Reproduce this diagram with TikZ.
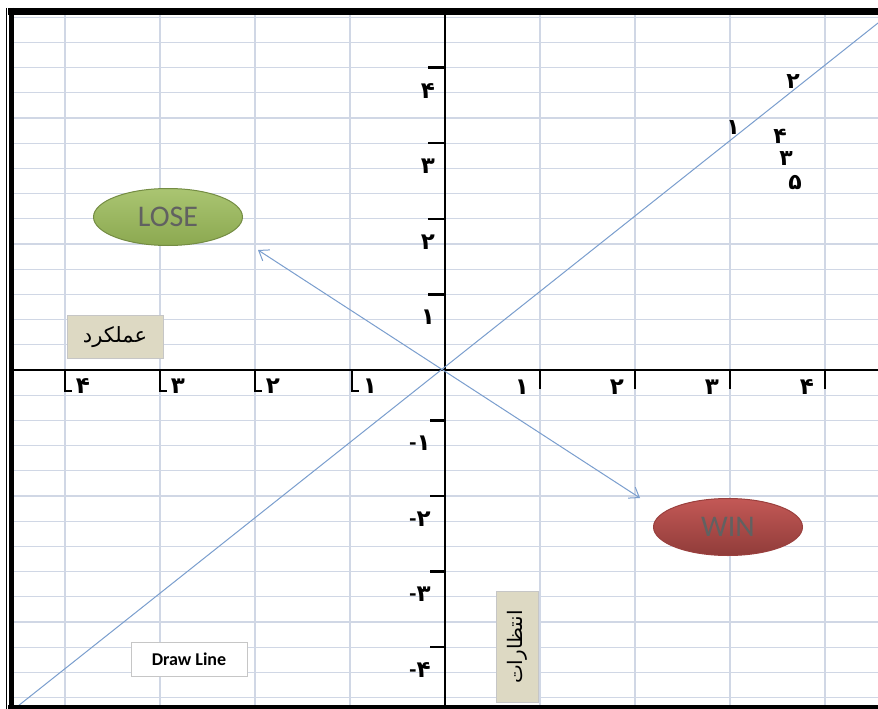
\documentclass[tikz,border=0pt]{standalone}
\usepackage{fontspec}
\setmainfont{Carlito}
\newfontfamily\fafont[Script=Arabic]{DejaVu Sans}
\TeXXeTstate=1
\usetikzlibrary{arrows.meta}
\usetikzlibrary{shapes.geometric}
\definecolor{gridblue}{RGB}{208,215,229}
\definecolor{lineblue}{RGB}{122,158,206}
\definecolor{losegreen}{RGB}{155,187,89}
\definecolor{winred}{RGB}{192,80,77}
\definecolor{beige}{RGB}{221,217,195}

\tikzset{
  gridline/.style={gridblue, line width=1.3pt},
  axisline/.style={black, line width=2.8pt},
  tickmark/.style={black, line width=2.4pt},
  axisdigit/.style={inner sep=0pt, font=\fafont\bfseries\fontsize{23}{23}\selectfont},
  bigdigit/.style={inner sep=0pt, font=\fafont\bfseries\fontsize{22}{22}\selectfont},
  labelbox/.style={draw=gray!45, line width=1pt, inner sep=2pt},
  result/.style={ellipse, line width=1pt, minimum width=149pt, minimum height=57pt,
    text=black!62, font=\fontsize{30}{30}\selectfont},
  barbtip/.tip={Straight Barb[length=9pt, width=13pt]}
}

\begin{document}
\begin{tikzpicture}[x=1pt, y=-1pt]
    \useasboundingbox (0,0) rectangle (878,709);
    \fill[white] (0,0) rectangle (878,709);

    % sheet grid
    \foreach \i in {0,...,8} {
        \pgfmathsetmacro{\x}{65 + 95*\i}
        \draw[gridline] (\x, 14) -- (\x, 705);
    }
    \foreach \j in {-14,...,13} {
        \pgfmathsetmacro{\y}{370 + 25.2*\j}
        \draw[gridline] (14, \y) -- (878, \y);
    }

    % axes
    \draw[axisline] (14, 370) -- (878, 370);
    \draw[axisline] (445, 14) -- (445, 705);

    % x ticks
    \foreach \x/\d in {65/۴, 160/۳, 255/۲, 352/۱} {
        \draw[tickmark] (\x, 370) -- (\x, 391) -- ++(7, 0);
        \node[axisdigit] at (\x+18, 386) {\d};
    }
    \foreach \x/\d in {540/۱, 635/۲, 730/۳, 825/۴} {
        \draw[tickmark] (\x, 370) -- (\x, 389);
        \node[axisdigit] at (\x-18, 387) {\d};
    }

    % y ticks
    \foreach \k/\d in {3/۱, 6/۲, 9/۳, 12/۴} {
        \pgfmathsetmacro{\y}{370 - 25.2*\k}
        \draw[tickmark] (428, \y) -- (445, \y);
        \node[axisdigit] at (428, \y+23) {\d};
    }
    \foreach \k/\d in {2/۱, 5/۲, 8/۳, 11/۴} {
        \pgfmathsetmacro{\y}{370 + 25.2*\k}
        \draw[tickmark] (430, \y) -- (445, \y);
        \node[axisdigit] at (420, \y+23) {{\rmfamily -}\d};
    }

    % diagonal line and arrows
    \coordinate (O) at (445, 370);
    \coordinate (lowend) at (18, 706);
    \coordinate (highend) at (878, 23);
    \coordinate (loseend) at (258, 250);
    \coordinate (winend) at (640, 498);
    \draw[lineblue, line width=1pt] (lowend) -- (highend);
    \draw[lineblue, line width=1pt, barbtip-barbtip] (loseend) -- (winend);

    % ranks along the line
    \node[bigdigit] (r1) at (733, 128) {۱};
    \node[bigdigit] (r2) at (793, 82) {۲};
    \node[bigdigit] (r4) at (780, 136) {۴};
    \node[bigdigit] (r3) at (786, 159) {۳};
    \node[bigdigit] (r5) at (795, 183) {۵};

    % ellipses
    \node[result, draw=losegreen!75!black, top color=losegreen!85!white,
        bottom color=losegreen!90!black] (lose) at (168, 217) {LOSE};
    \node[result, draw=winred!80!black, top color=winred!95!white,
        bottom color=winred!75!black] (win) at (728, 527) {WIN};

    % text boxes
    \node[labelbox, fill=beige, minimum width=96pt, minimum height=43pt,
        font=\fafont\fontsize{21}{21}\selectfont] (perf) at (115, 337)
        {\beginR عملکرد\endR};
    \node[labelbox, fill=beige, rotate=90, minimum width=111pt, minimum height=42pt,
        font=\fafont\fontsize{20}{20}\selectfont] (expect) at (517, 647)
        {\beginR انتظارات\endR};
    \node[labelbox, fill=white, minimum width=116pt, minimum height=34pt,
        font=\bfseries\fontsize{18}{18}\selectfont] (drawline) at (189, 659) {Draw Line};

    % frame
    \draw[black, line width=1pt] (6.5, 8) -- (6.5, 709);
    \draw[black, line width=4.5pt] (11.5, 8) -- (11.5, 709);
    \draw[black, line width=7pt] (8, 11.5) -- (878, 11.5);
    \draw[black, line width=4pt] (8, 707) -- (878, 707);
\end{tikzpicture}
\end{document}
